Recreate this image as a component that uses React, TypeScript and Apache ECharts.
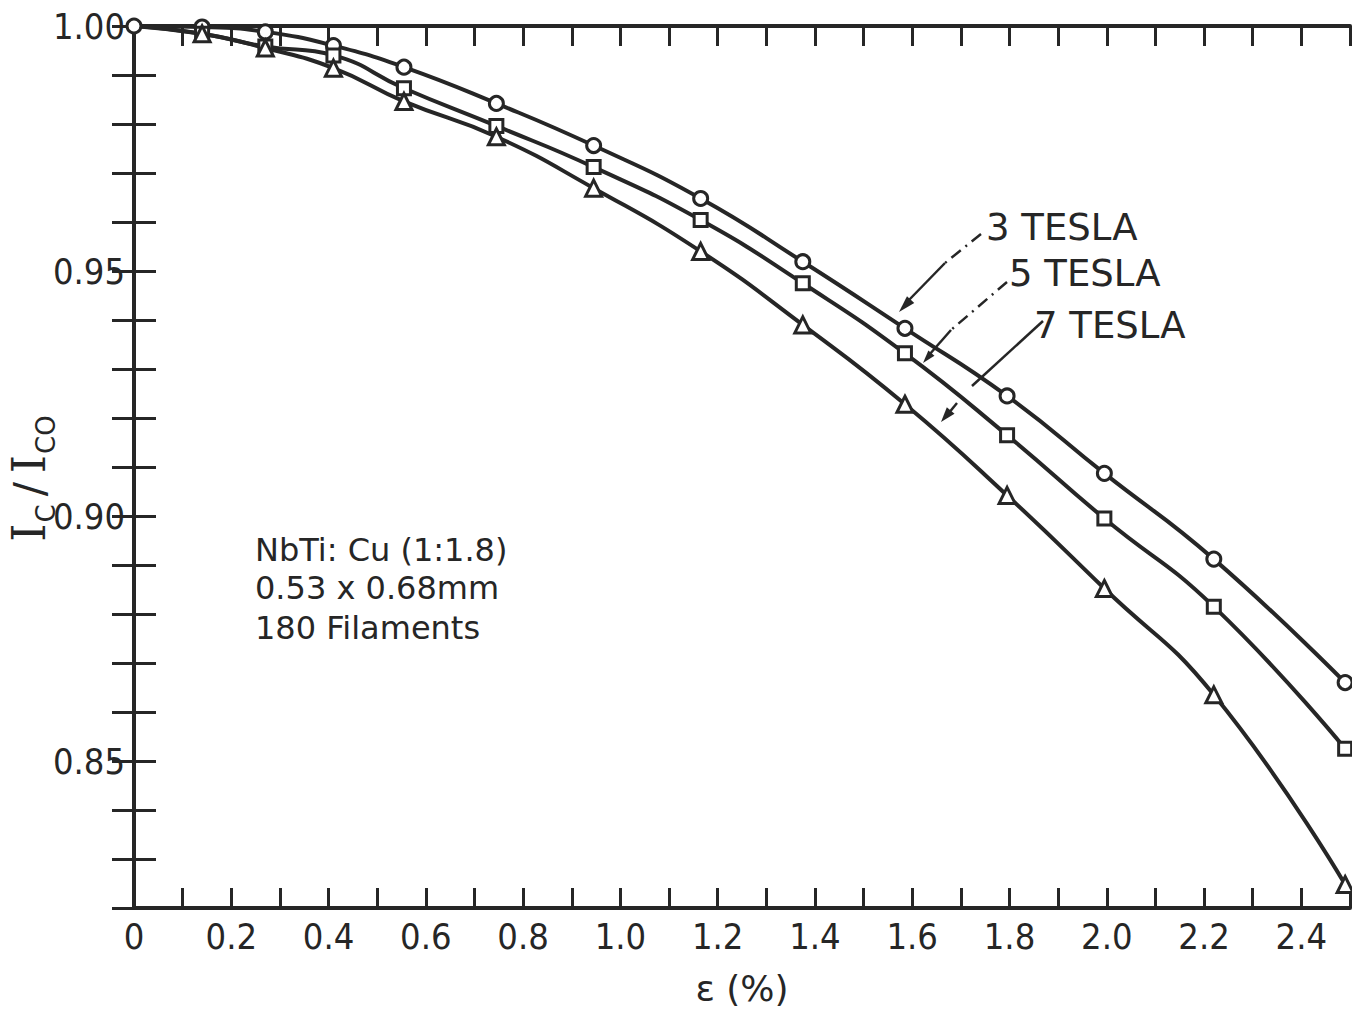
import React, { useEffect, useRef } from 'react';
import * as echarts from 'echarts';

// ---- data ----
const strainPoints = [0, 0.14, 0.27, 0.41, 0.555, 0.745, 0.945, 1.165, 1.375, 1.585, 1.795, 1.995, 2.22, 2.49];
const tesla3 = [1.0, 0.9998, 0.9988, 0.996, 0.9916, 0.9842, 0.9756, 0.9648, 0.9519, 0.9383, 0.9245, 0.9087, 0.8912, 0.866];
const tesla5 = [1.0, 0.9984, 0.9958, 0.994, 0.9873, 0.9796, 0.9712, 0.9604, 0.9475, 0.9332, 0.9165, 0.8995, 0.8815, 0.8525];
const tesla7 = [1.0, 0.9984, 0.9955, 0.9914, 0.9846, 0.9774, 0.9669, 0.954, 0.939, 0.9228, 0.9042, 0.8852, 0.8635, 0.8248];
const seriesNames = ['3 TESLA', '5 TESLA', '7 TESLA'];
const xTickLabels = ['0', '0.2', '0.4', '0.6', '0.8', '1.0', '1.2', '1.4', '1.6', '1.8', '2.0', '2.2', '2.4'];
const yTickLabels = ['0.85', '0.90', '0.95', '1.00'];
const noteLines = ['NbTi: Cu (1:1.8)', '0.53 x 0.68mm', '180 Filaments'];
const xAxisTitle = 'ε (%)';

const INK = '#262626';
const NARROW = "'Liberation Sans Narrow', 'DejaVu Sans Condensed', 'Roboto Condensed', 'Liberation Sans', sans-serif";

function arrowHead(tipX: number, tipY: number, fromX: number, fromY: number, len = 17, half = 5) {
  const dx = tipX - fromX;
  const dy = tipY - fromY;
  const d = Math.sqrt(dx * dx + dy * dy);
  const ux = dx / d;
  const uy = dy / d;
  const bx = tipX - ux * len;
  const by = tipY - uy * len;
  return {
    type: 'polygon',
    shape: { points: [[tipX, tipY], [bx - uy * half, by + ux * half], [bx + uy * half, by - ux * half]] },
    style: { fill: INK },
    z: 20,
  };
}

function seg(x1: number, y1: number, x2: number, y2: number, dash?: number[]) {
  return {
    type: 'line',
    shape: { x1, y1, x2, y2 },
    style: { stroke: INK, lineWidth: 2.5, lineDash: dash },
    z: 20,
  };
}

export default function App() {
  const ref = useRef<HTMLDivElement>(null);

  useEffect(() => {
    if (!ref.current) return;
    const chart = echarts.init(ref.current, undefined, { renderer: 'svg' });

    const mk = (name: string, ys: number[], symbol: string, size: number) => ({
      type: 'line',
      name,
      data: strainPoints.map((x, i) =>
        i === 0 && symbol !== 'circle' ? { value: [x, ys[i]], symbol: 'none' } : [x, ys[i]]
      ),
      smooth: 0.5,
      symbol,
      symbolSize: size,
      showSymbol: true,
      lineStyle: { color: INK, width: 4 },
      itemStyle: { color: '#ffffff', borderColor: INK, borderWidth: 3 },
      emphasis: { disabled: true },
      z: 5,
    });

    const dashDot = [12, 6, 2, 6];
    const textStyle = (size: number) => ({
      fill: INK,
      fontFamily: 'DejaVu Sans',
      fontSize: size,
      verticalAlign: 'middle',
    });

    const axisTickStyle = { color: INK, width: 3 };

    const option: any = {
      animation: false,
      backgroundColor: '#ffffff',
      grid: { left: 134, right: 2, top: 26, bottom: 101, containLabel: false, outerBoundsMode: 'none' },
      xAxis: [
        {
          type: 'value',
          min: 0,
          max: 2.5,
          interval: 0.1,
          axisLine: { show: true, lineStyle: { color: INK, width: 4 } },
          axisTick: { show: true, inside: true, length: 20, lineStyle: axisTickStyle },
          splitLine: { show: false },
          axisLabel: {
            margin: 10,
            color: INK,
            fontFamily: NARROW,
            fontSize: 36,
            formatter: (v: number) => {
              const k = Math.round(v * 10);
              if (k % 2 !== 0) return '';
              return xTickLabels[k / 2] ?? '';
            },
          },
          name: xAxisTitle,
          nameLocation: 'middle',
          nameGap: 62,
          nameMoveOverlap: false,
          nameTextStyle: { color: INK, fontFamily: 'DejaVu Sans', fontSize: 36 },
        },
        {
          type: 'value',
          position: 'top',
          min: 0,
          max: 2.5,
          interval: 0.1,
          axisLine: { show: true, lineStyle: { color: INK, width: 4 } },
          axisTick: { show: true, inside: true, length: 20, lineStyle: axisTickStyle },
          axisLabel: { show: false },
          splitLine: { show: false },
        },
      ],
      yAxis: [
        {
          type: 'value',
          min: 0.82,
          max: 1.0,
          interval: 0.01,
          axisLine: { show: true, lineStyle: { color: INK, width: 4 } },
          axisTick: { show: true, inside: true, length: 22, lineStyle: axisTickStyle },
          splitLine: { show: false },
          axisLabel: {
            margin: 9,
            color: INK,
            fontFamily: NARROW,
            fontSize: 36,
            formatter: (v: number) => {
              const k = Math.round(v * 100);
              if (k % 5 !== 0) return '';
              return yTickLabels[(k - 85) / 5] ?? '';
            },
          },
          name: '{i|I}{s|C}{sl|/}{i|I}{s|CO}',
          nameLocation: 'middle',
          nameGap: 75,
          nameRotate: 90,
          nameMoveOverlap: false,
          nameTextStyle: {
            color: INK,
            padding: [0, 24, 0, 0],
            rich: {
              i: { fontFamily: 'DejaVu Serif', fontSize: 46, lineHeight: 46, padding: [0, 1, 14, 1], color: INK },
              s: { fontFamily: 'DejaVu Sans', fontSize: 26, lineHeight: 26, verticalAlign: 'bottom', color: INK },
              sl: { fontFamily: 'DejaVu Sans', fontSize: 42, lineHeight: 46, padding: [0, 8, 14, 8], color: INK },
            },
          },
        },
        {
          type: 'value',
          position: 'right',
          min: 0.82,
          max: 1.0,
          interval: 0.01,
          axisLine: { show: true, lineStyle: { color: INK, width: 4 } },
          axisTick: { show: true, inside: true, length: 22, lineStyle: axisTickStyle },
          axisLabel: { show: false },
          splitLine: { show: false },
        },
      ],
      series: [
        mk(seriesNames[0], tesla3, 'circle', 14),
        mk(seriesNames[1], tesla5, 'rect', 13),
        mk(seriesNames[2], tesla7, 'triangle', 16),
      ],
      graphic: [
        { type: 'text', left: 986, top: 209, style: { text: seriesNames[0], ...textStyle(37) }, z: 20 },
        { type: 'text', left: 1009, top: 255, style: { text: seriesNames[1], ...textStyle(37) }, z: 20 },
        { type: 'text', left: 1034, top: 307, style: { text: seriesNames[2], ...textStyle(37) }, z: 20 },
        { type: 'text', left: 255, top: 534, style: { text: noteLines[0], ...textStyle(32) }, z: 20 },
        { type: 'text', left: 255, top: 572, style: { text: noteLines[1], ...textStyle(32) }, z: 20 },
        { type: 'text', left: 255, top: 612, style: { text: noteLines[2], ...textStyle(32) }, z: 20 },
        // 3 TESLA leader
        seg(981, 234, 945, 263, dashDot),
        seg(945, 263, 908, 301),
        arrowHead(899, 312, 945, 263),
        // 5 TESLA leader
        seg(1007, 282, 951, 330, dashDot),
        seg(951, 330, 929, 355),
        arrowHead(923, 363, 951, 330, 13, 4),
        // 7 TESLA leader
        seg(1043, 321, 972, 386),
        seg(957, 403, 948, 414),
        arrowHead(941, 422, 957, 403, 15, 5),
      ],
    };

    chart.setOption(option);
    return () => chart.dispose();
  }, []);

  return (
    <div
      ref={ref}
      style={{ position: 'absolute', left: 0, top: 0, width: 1352, height: 1009, background: '#fff' }}
    />
  );
}
